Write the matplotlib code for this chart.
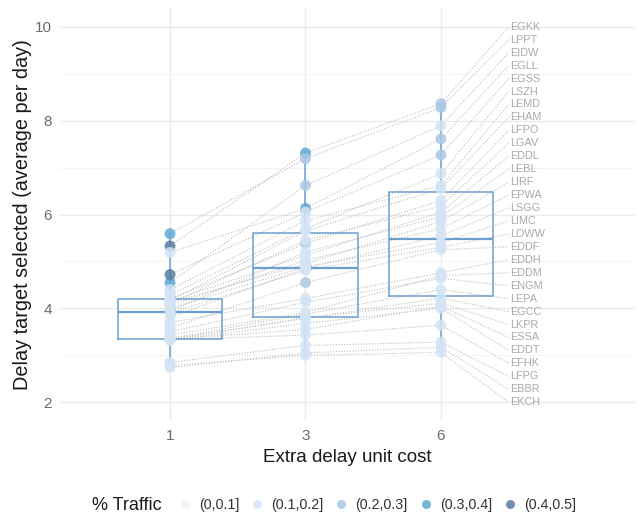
import numpy as np
import pandas as pd
import matplotlib
matplotlib.use("Agg")
import matplotlib.pyplot as plt
from matplotlib.lines import Line2D

plt.rcParams["font.family"] = ["Liberation Sans", "DejaVu Sans"]

# airports, ordered as in the label column (by value at cost 6)
airports = ["EGKK", "LPPT", "EIDW", "EGLL", "EGSS", "LSZH", "LEMD", "EHAM", "LFPO", "LGAV",
            "EDDL", "LEBL", "LIRF", "EPWA", "LSGG", "LIMC", "LOWW", "EDDF", "EDDH", "EDDM",
            "ENGM", "LEPA", "EGCC", "LKPR", "ESSA", "EDDT", "EFHK", "LFPG", "EBBR", "EKCH"]
costs = ["1", "3", "6"]

delay_c1 = [5.33, 5.59, 4.55, 5.19, 4.72, 4.28, 4.40, 4.17, 4.20, 4.10,
            4.15, 3.94, 4.12, 4.06, 3.81, 4.00, 3.90, 3.58, 3.70, 3.43,
            3.50, 3.36, 3.34, 3.33, 3.34, 3.32, 3.33, 2.85, 2.74, 2.78]
delay_c3 = [7.31, 7.19, 6.62, 6.13, 6.05, 5.70, 5.87, 5.65, 5.38, 5.45,
            5.13, 5.20, 4.95, 5.02, 4.85, 4.89, 4.81, 4.55, 4.21, 3.91,
            4.13, 3.88, 3.79, 3.80, 3.55, 3.68, 3.43, 3.21, 3.05, 3.00]
delay_c6 = [8.36, 8.28, 7.89, 7.61, 7.27, 6.87, 6.62, 6.55, 6.30, 6.18,
            6.05, 5.95, 5.85, 5.70, 5.55, 5.40, 5.30, 5.25, 4.76, 4.70,
            4.64, 4.40, 4.22, 4.11, 4.05, 4.00, 3.64, 3.28, 3.17, 3.06]

traffic_c1 = [0.45, 0.35, 0.35, 0.15, 0.45, 0.15, 0.15, 0.15, 0.15, 0.15,
              0.15, 0.25, 0.15, 0.15, 0.15, 0.15, 0.15, 0.15, 0.15, 0.15,
              0.15, 0.15, 0.15, 0.15, 0.15, 0.15, 0.15, 0.15, 0.15, 0.15]
traffic_c3 = [0.35, 0.25, 0.25, 0.35, 0.15, 0.15, 0.15, 0.15, 0.25, 0.15,
              0.15, 0.15, 0.15, 0.15, 0.15, 0.15, 0.15, 0.25, 0.15, 0.15,
              0.15, 0.15, 0.15, 0.15, 0.15, 0.15, 0.15, 0.15, 0.15, 0.15]
traffic_c6 = [0.25, 0.25, 0.15, 0.25, 0.25, 0.15, 0.15, 0.15, 0.15, 0.15,
              0.15, 0.15, 0.15, 0.15, 0.15, 0.15, 0.15, 0.15, 0.15, 0.15,
              0.15, 0.15, 0.15, 0.15, 0.15, 0.15, 0.15, 0.15, 0.15, 0.15]

traffic_bins = [0, 0.1, 0.2, 0.3, 0.4, 0.5]
traffic_labels = ["(0,0.1]", "(0.1,0.2]", "(0.2,0.3]", "(0.3,0.4]", "(0.4,0.5]"]
traffic_colors = ["#f2f5f9", "#d3e4f5", "#abc8e6", "#5fa8d4", "#5b7ca2"]

C_BOX = "#6a9fd0"
C_LINE = "#bdbdbd"

delays = [delay_c1, delay_c3, delay_c6]
traffic = [traffic_c1, traffic_c3, traffic_c6]

fig = plt.figure(figsize=(6.41, 5.15), dpi=100)
ax = fig.add_axes([60 / 641, 94 / 515, 575 / 641, 413 / 515])
ax.set_xlim(0.188, 4.432)
ax.set_ylim(1.6, 10.4)

# dotted connector lines -> label column
label_y = np.linspace(10, 2, len(airports))
for i, name in enumerate(airports):
    ax.plot([1, 2, 3, 3.5], [delay_c1[i], delay_c3[i], delay_c6[i], label_y[i]],
            ls=(0, (1, 1.5)), color=C_LINE, lw=0.8, zorder=1)
    ax.text(3.51, label_y[i], name, ha="left", va="center", fontsize=7.8,
            color="#a9a9a9", zorder=2)

# boxes
ax.boxplot(delays, positions=[1, 2, 3], widths=0.77, whis=(0, 100), showfliers=False,
           showcaps=False,
           boxprops=dict(color=C_BOX, lw=1.1),
           medianprops=dict(color=C_BOX, lw=1.6),
           whiskerprops=dict(color=C_BOX, lw=1.1),
           zorder=3)

# points coloured by traffic share
for k, (vals, tr) in enumerate(zip(delays, traffic)):
    cls = pd.cut(pd.Series(tr), bins=traffic_bins, labels=False)
    cols = [traffic_colors[c] for c in cls]
    ax.scatter(np.full(len(vals), k + 1), vals, c=cols, s=62, alpha=0.85,
               linewidths=0, zorder=4)

ax.set_xticks([1, 2, 3])
ax.set_xticklabels(costs)
ax.set_yticks([2, 4, 6, 8, 10])
ax.set_yticks([3, 5, 7, 9], minor=True)
ax.tick_params(which="both", length=0, labelsize=11, labelcolor="#6b6b6b", pad=6)
ax.grid(which="major", color="#ebebeb", lw=1.0)
ax.grid(which="minor", axis="y", color="#f3f3f3", lw=0.6)
ax.set_axisbelow(True)
for s in ax.spines.values():
    s.set_visible(False)

ax.set_xlabel("Extra delay unit cost", fontsize=13.5, color="#1a1a1a", labelpad=4)
ax.set_ylabel("Delay target selected (average per day)", fontsize=14.3, color="#1a1a1a",
              labelpad=2)

# legend along the bottom
handles = [Line2D([0], [0], marker="o", ls="", markerfacecolor=c, markeredgecolor="none",
                  markersize=6.5, alpha=0.85) for c in traffic_colors]
fig.text(92 / 641, 10 / 515, "% Traffic", fontsize=13, color="#1a1a1a", va="center")
fig.legend(handles, traffic_labels, ncol=5, loc="center left",
           bbox_to_anchor=(179 / 641, 10 / 515), frameon=False, fontsize=10.3,
           borderpad=0, borderaxespad=0,
           handlelength=0.8, handletextpad=0.58, columnspacing=0.86, labelcolor="#333333")

fig.savefig("out.png", dpi=100)
